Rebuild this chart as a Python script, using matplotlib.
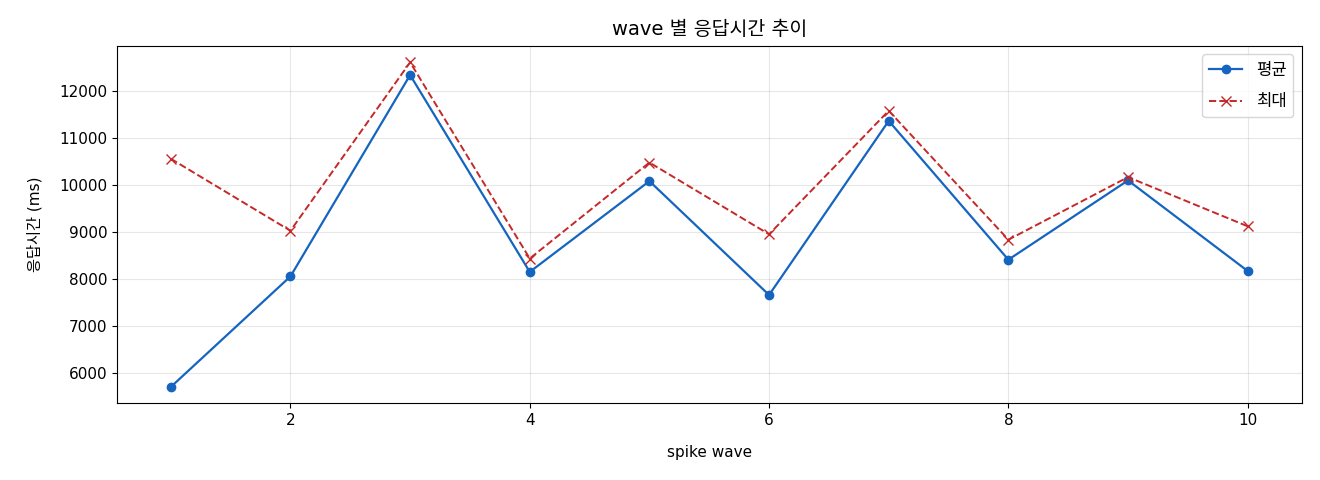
import numpy as np
from matplotlib import pyplot as plt

plt.rcParams['font.family'] = ['DejaVu Sans', 'Noto Sans CJK KR']
plt.rcParams['axes.unicode_minus'] = False

# wave 별 응답시간 (ms)
waves = [1, 2, 3, 4, 5, 6, 7, 8, 9, 10]
avg_ms = [5700, 8050, 12330, 8145, 10075, 7655, 11355, 8405, 10090, 8165]
max_ms = [10550, 9020, 12600, 8430, 10470, 8945, 11570, 8830, 10160, 9115]

fig, ax = plt.subplots(figsize=(13.2, 4.8), dpi=100)
ax.plot(waves, avg_ms, marker='o', color='#1565C0', linewidth=1.6, markersize=6, label='평균')
ax.plot(waves, max_ms, marker='x', linestyle='--', color='#C62828', linewidth=1.4, markersize=6.5, label='최대')

ax.set_title('wave 별 응답시간 추이', fontsize=14, pad=8)
ax.set_xlabel('spike wave', fontsize=11, labelpad=12)
ax.set_ylabel('응답시간 (ms)', fontsize=11, labelpad=12)
ax.tick_params(labelsize=11)
ax.grid(True, alpha=0.3)
ax.legend(loc='upper right', fontsize=12, labelspacing=0.8)

plt.subplots_adjust(left=0.0886, right=0.986, top=0.904, bottom=0.160)
plt.savefig('out.png')
